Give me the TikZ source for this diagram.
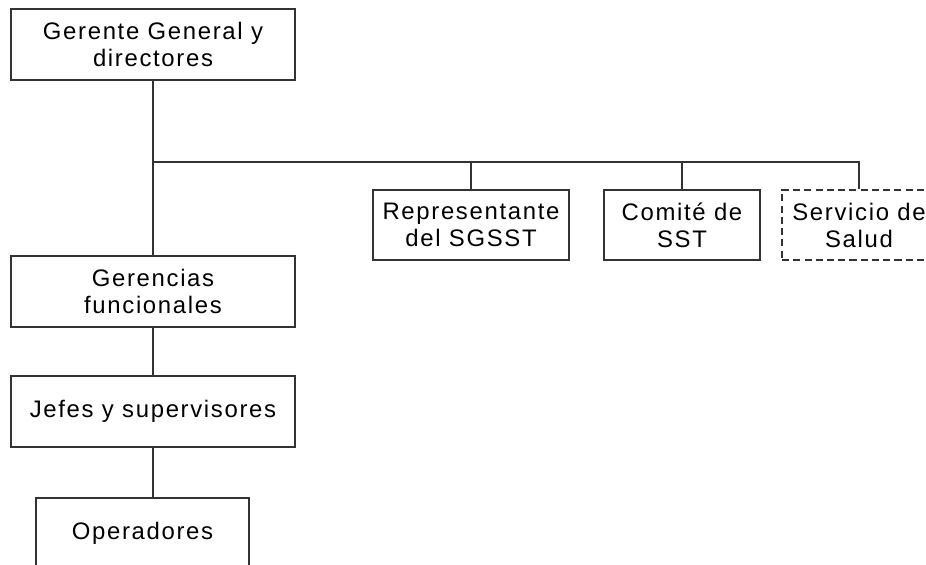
\documentclass[tikz,border=0pt]{standalone}
\usepackage{fontspec}
\setmainfont{Liberation Sans}[LetterSpace=7]
\usepackage{tikz}
\usetikzlibrary{positioning}

\begin{document}
\begin{tikzpicture}[>=latex,
    orgbox/.style={draw=black!80, line width=1.3pt, fill=white, minimum height=1.775cm, align=center, inner sep=2pt, font=\fontsize{17}{19.2}\selectfont},
    dashbox/.style={orgbox, dash pattern=on 5pt off 3pt}]
    \useasboundingbox (0,0) rectangle (23.15,-14.125);
    \node at (3.825,-1.1125) [orgbox, minimum width=7.1cm](gen){Gerente General y\\directores};
    \node at (gen) [orgbox, yshift=-6.175cm, minimum width=7.1cm](ger){Gerencias\\funcionales};
    \node at (ger) [orgbox, yshift=-3cm, minimum width=7.1cm](jef){Jefes y supervisores};
    \node at (jef) [orgbox, xshift=-0.2625cm, yshift=-3.05cm, minimum width=5.325cm](ope){Operadores};
    \node at (gen) [orgbox, xshift=7.95cm, yshift=-4.5125cm, minimum width=4.9cm, minimum height=1.75cm](rep){Representante\\del SGSST};
    \node at (rep) [orgbox, xshift=5.275cm, minimum width=3.9cm, minimum height=1.75cm](com){Comité de\\SST};
    \node at (com) [dashbox, xshift=4.425cm, minimum width=3.85cm, minimum height=1.75cm](sal){Servicio de\\Salud};
    \coordinate (bus) at ([yshift=-2.025cm]gen.south);

    %% Lines
    \draw [line width=1.3pt, black!80] (gen) -- (ger);
    \draw [line width=1.3pt, black!80] (ger) -- (jef);
    \draw [line width=1.3pt, black!80] (jef.south) -- (jef.south |- ope.north);
    \draw [line width=1.3pt, black!80] (bus) -| (rep);
    \draw [line width=1.3pt, black!80] (bus) -| (com);
    \draw [line width=1.3pt, black!80] (bus) -| (sal);
\end{tikzpicture}
\end{document}
